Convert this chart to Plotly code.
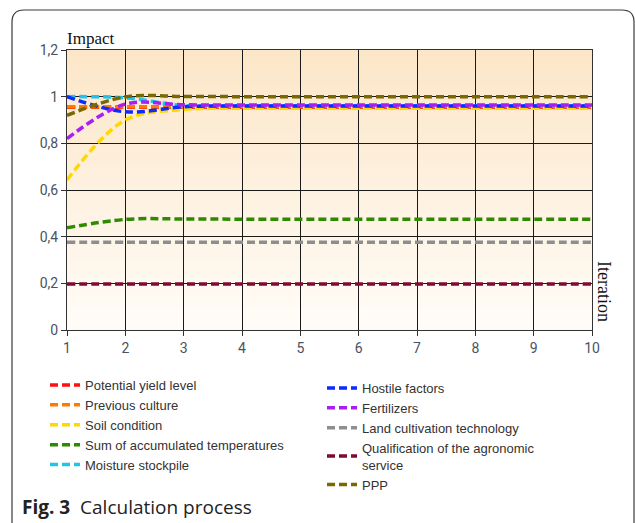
import plotly.graph_objects as go

# ---------------- data ----------------
iterations = [1, 2, 3, 4, 5, 6, 7, 8, 9, 10]

potential_yield = [0.955, 0.955, 0.955, 0.955, 0.955, 0.955, 0.955, 0.955, 0.955, 0.955]
previous_culture = [0.957, 0.957, 0.957, 0.957, 0.957, 0.957, 0.957, 0.957, 0.957, 0.957]
soil_condition = [0.643, 0.900, 0.945, 0.950, 0.950, 0.950, 0.950, 0.950, 0.950, 0.950]
sum_temperatures = [0.438, 0.474, 0.476, 0.475, 0.475, 0.475, 0.475, 0.475, 0.475, 0.475]
moisture = [1.0, 0.995, 0.962, 0.961, 0.961, 0.961, 0.961, 0.961, 0.961, 0.961]
hostile = [1.0, 0.935, 0.957, 0.960, 0.960, 0.960, 0.960, 0.960, 0.960, 0.960]
fertilizers = [0.820, 0.968, 0.965, 0.964, 0.964, 0.964, 0.964, 0.964, 0.964, 0.964]
land_tech = [0.376, 0.376, 0.376, 0.376, 0.376, 0.376, 0.376, 0.376, 0.376, 0.376]
qualification = [0.197, 0.197, 0.197, 0.197, 0.197, 0.197, 0.197, 0.197, 0.197, 0.197]
ppp = [0.920, 0.999, 1.001, 1.000, 1.000, 1.000, 1.000, 1.000, 1.000, 1.000]

y_tickvals = [0, 0.2, 0.4, 0.6, 0.8, 1.0, 1.2]
y_ticktext = ["0", "0,2", "0,4", "0,6", "0,8", "1", "1,2"]
x_tickvals = [1, 2, 3, 4, 5, 6, 7, 8, 9, 10]

series = [
    ("Potential yield level", potential_yield, "#FF1010", "legend"),
    ("Previous culture", previous_culture, "#FF7A00", "legend"),
    ("Soil condition", soil_condition, "#FFD800", "legend"),
    ("Sum of accumulated temperatures", sum_temperatures, "#2E8A00", "legend"),
    ("Moisture stockpile", moisture, "#1EC4EC", "legend"),
    ("Hostile factors", hostile, "#0A2CFF", "legend2"),
    ("Fertilizers", fertilizers, "#A81EF5", "legend2"),
    ("Land cultivation technology", land_tech, "#8E8E8E", "legend2"),
    ("Qualification of the agronomic<br>service", qualification, "#800A36", "legend2"),
    ("PPP", ppp, "#7A6800", "legend2"),
]

# ---------------- layout geometry (pixels) ----------------
W, H = 635, 523
PL, PR, PT, PB = 67, 592, 50, 330


def px(x):
    return (x - PL) / (PR - PL)


def py(y):
    return (PB - y) / (PB - PT)


fig = go.Figure()

for name, vals, color, leg in series:
    fig.add_trace(go.Scatter(
        x=iterations, y=vals, name=name, mode="lines",
        line=dict(color=color, width=3.5, dash="8px,4px", shape="spline"),
        legend=leg,
    ))

shapes = []
# background gradient (light peach at top to near white at bottom)
n = 40
top = (252, 230, 200)
bot = (255, 252, 247)
for i in range(n):
    t = i / (n - 1)
    c = tuple(round(bot[k] + (top[k] - bot[k]) * t) for k in range(3))
    shapes.append(dict(type="rect", xref="x domain", yref="y domain",
                       x0=0, x1=1, y0=i / n, y1=(i + 1) / n,
                       fillcolor="rgb(%d,%d,%d)" % c, line=dict(width=0),
                       layer="below"))

# rounded frame
path = "M {0},{1} L {0},{2} Q {0},{3} {4},{3} L {5},{3} Q {6},{3} {6},{7} L {6},{8}".format(
    px(12), py(523), py(22), py(10), px(24), px(622), px(634), py(22), py(523))
shapes.append(dict(type="path", xref="paper", yref="paper", path=path,
                   line=dict(color="#3a3a3a", width=1.2), layer="above"))

annotations = [
    dict(text="Impact", xref="paper", yref="paper", x=px(65), y=py(50),
         xanchor="left", yanchor="bottom", showarrow=False,
         font=dict(family="Liberation Serif", size=17, color="#111")),
    dict(text="Iteration", xref="paper", yref="paper", x=px(604), y=py(291),
         xanchor="center", yanchor="middle", textangle=90, showarrow=False,
         font=dict(family="Liberation Serif", size=18, color="#111")),
    dict(text="<b>Fig. 3</b>  Calculation process", xref="paper", yref="paper",
         x=px(20), y=py(507), xanchor="left", yanchor="middle", showarrow=False,
         font=dict(family="Open Sans", size=19, color="#222")),
]

legend_font = dict(family="Liberation Sans", size=13, color="#333")

fig.update_layout(
    width=W, height=H,
    margin=dict(l=PL, r=W - PR, t=PT, b=H - PB),
    paper_bgcolor="white",
    plot_bgcolor="rgba(0,0,0,0)",
    shapes=shapes,
    annotations=annotations,
    legend=dict(x=px(45), y=py(370), xanchor="left", yanchor="top",
                bgcolor="rgba(0,0,0,0)", font=legend_font, tracegroupgap=0,
                itemwidth=30),
    legend2=dict(x=px(322), y=py(373), xanchor="left", yanchor="top",
                 bgcolor="rgba(0,0,0,0)", font=legend_font, tracegroupgap=0,
                 itemwidth=30),
    xaxis=dict(range=[1, 10], tickvals=x_tickvals, showgrid=True,
               gridcolor="#1a1a1a", gridwidth=1, zeroline=False,
               showline=True, linecolor="#333", mirror=True,
               ticks="outside", ticklen=5, tickcolor="#333",
               tickfont=dict(family="Roboto", size=14, color="#4a5262")),
    yaxis=dict(range=[0, 1.2], tickvals=y_tickvals, ticktext=y_ticktext,
               showgrid=True, gridcolor="#1a1a1a", gridwidth=1, zeroline=False,
               showline=True, linecolor="#333", mirror=True,
               ticks="outside", ticklen=5, tickcolor="#333",
               tickfont=dict(family="Roboto", size=14, color="#4a5262")),
)

fig.write_html("out.html", config={"displayModeBar": False},
               post_script="document.body.style.margin='0';")
